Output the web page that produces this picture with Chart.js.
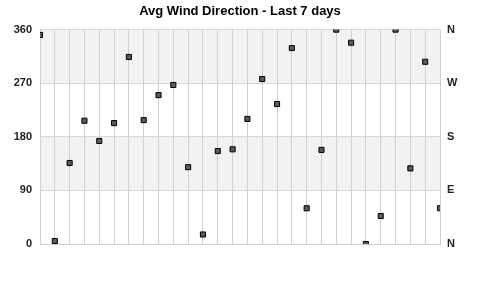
<!DOCTYPE html>
<html>
<head>
<meta charset="utf-8">
<script src="https://cdn.jsdelivr.net/npm/chart.js@4/dist/chart.umd.min.js"></script>
<style>
  html, body { margin: 0; padding: 0; background: #fff; }
  #wrap { width: 480px; height: 299px; }
</style>
</head>
<body>
<div id="wrap"><canvas id="wind"></canvas></div>
<script>
// 28 readings, one every 6 hours over the last 7 days
const times = ['1','2','3','4','5','6','7','8','9','10','11','12','13','14',
  '15','16','17','18','19','20','21','22','23','24','25','26','27','28'];
const direction = [351, 5, 136, 207, 173, 203, 314, 208, 250, 267, 129, 16, 156, 159,
  210, 277, 235, 329, 60, 158, 360, 338, 0, 47, 360, 127, 306, 60];
const degreeTicks = [0, 90, 180, 270, 360];
const compassTicks = ['N', 'E', 'S', 'W', 'N'];
const shadedBands = [[90, 180], [270, 360]];

const tickFont = {family: 'Liberation Sans, Arial, sans-serif', size: 11, weight: 'bold'};

const bands = {
  id: 'bands',
  beforeDraw(chart) {
    const {ctx, chartArea, scales} = chart;
    ctx.save();
    ctx.fillStyle = '#f2f2f2';
    shadedBands.forEach(([lo, hi]) => {
      const top = scales.y.getPixelForValue(hi);
      const bottom = scales.y.getPixelForValue(lo);
      ctx.fillRect(chartArea.left, top, chartArea.right - chartArea.left, bottom - top);
    });
    ctx.restore();
  }
};

new Chart(document.getElementById('wind'), {
  type: 'line',
  data: {
    labels: times,
    datasets: [{
      data: direction,
      showLine: false,
      pointStyle: 'rect',
      pointRadius: 3.6,
      pointHoverRadius: 3.6,
      pointBackgroundColor: '#5a5a5a',
      pointBorderColor: '#000',
      pointBorderWidth: 1,
      clip: 0
    }]
  },
  options: {
    responsive: true,
    maintainAspectRatio: false,
    animation: false,
    layout: {padding: {bottom: 55}},
    plugins: {
      legend: {display: false},
      tooltip: {enabled: false},
      title: {
        display: true,
        text: 'Avg Wind Direction - Last 7 days',
        color: '#000',
        font: {family: 'Liberation Sans, Arial, sans-serif', size: 13, weight: 'bold'},
        padding: {top: 4, bottom: 10}
      }
    },
    scales: {
      x: {
        offset: false,
        ticks: {display: false},
        grid: {color: '#d0d0d0', drawTicks: false},
        border: {color: '#d0d0d0'},
        afterFit(s) { s.height = 0; }
      },
      y: {
        position: 'left',
        min: 0,
        max: 360,
        afterBuildTicks(s) { s.ticks = degreeTicks.map(v => ({value: v})); },
        ticks: {color: '#222', font: tickFont, padding: 8},
        grid: {color: '#d8d8d8', drawTicks: false},
        border: {display: false},
        afterFit(s) { s.width = 40; }
      },
      y2: {
        position: 'right',
        min: 0,
        max: 360,
        afterBuildTicks(s) { s.ticks = degreeTicks.map(v => ({value: v})); },
        ticks: {
          color: '#222',
          font: tickFont,
          padding: 7,
          callback: (v) => compassTicks[degreeTicks.indexOf(v)]
        },
        grid: {display: false, drawTicks: false},
        border: {display: false},
        afterFit(s) { s.width = 40; }
      }
    }
  },
  plugins: [bands]
});
</script>
</body>
</html>
